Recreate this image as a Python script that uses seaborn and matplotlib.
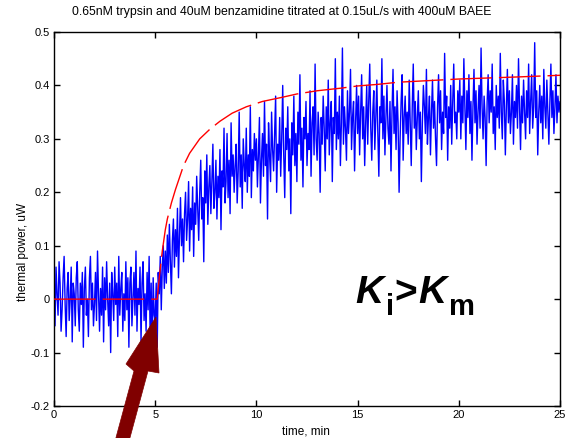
import numpy as np
import pandas as pd
import matplotlib
matplotlib.use("Agg")
import matplotlib.pyplot as plt
from matplotlib.patches import Polygon
import seaborn as sns

# ---------------- data ----------------
title = "0.65nM trypsin and 40uM benzamidine titrated at 0.15uL/s with 400uM BAEE"
xlabel = "time, min"
ylabel = "thermal power, uW"
xticks = [0, 5, 10, 15, 20, 25]
yticks = [-0.2, -0.1, 0, 0.1, 0.2, 0.3, 0.4, 0.5]
ytick_labels = ["-0.2", "-0.1", "0", "0.1", "0.2", "0.3", "0.4", "0.5"]

# measured thermal power (blue), sampled every 3 s from 0 to 25 min
power_0_5 = [
    0.02, -0.05, 0.06, 0.01, -0.03, 0.07, 0.03, -0.06, -0.02, 0.04,
    0.08, -0.01, -0.07, 0.02, 0.05, -0.04, 0.00, 0.06, -0.08, 0.03,
    0.01, -0.05, 0.04, 0.07, -0.02, -0.06, 0.03, -0.01, 0.05, -0.09,
    0.02, 0.06, -0.03, 0.00, -0.07, 0.04, 0.08, -0.02, 0.03, -0.05,
    -0.01, 0.05, -0.04, 0.09, 0.01, -0.06, 0.02, -0.03, 0.06, -0.08,
    0.04, -0.02, 0.07, 0.00, -0.05, 0.03, -0.10, 0.05, 0.01, -0.04,
    0.06, -0.01, 0.03, -0.07, 0.08, -0.03, 0.02, 0.05, -0.06, 0.01,
    -0.04, 0.07, -0.02, 0.04, -0.09, 0.03, 0.06, -0.05, 0.00, 0.05,
    -0.03, 0.09, -0.06, 0.02, -0.01, 0.06, -0.08, 0.03, 0.07, -0.04,
    0.01, -0.06, 0.05, -0.02, 0.08, -0.07, 0.03, -0.10, 0.04, -0.03,
]
power_5_10 = [
    -0.04, 0.03, -0.09, 0.05, 0.01, 0.08, -0.02, 0.06, 0.10, 0.02,
    0.09, 0.03, 0.12, 0.05, 0.14, 0.07, 0.01, 0.11, 0.15, 0.06,
    0.13, 0.08, 0.17, 0.04, 0.12, 0.19, 0.10, 0.15, 0.07, 0.16,
    0.20, 0.11, 0.15, 0.22, 0.09, 0.17, 0.13, 0.21, 0.08, 0.18,
    0.14, 0.23, 0.17, 0.11, 0.20, 0.26, 0.15, 0.19, 0.07, 0.24,
    0.18, 0.27, 0.14, 0.21, 0.25, 0.16, 0.22, 0.29, 0.17, 0.20,
    0.26, 0.15, 0.23, 0.19, 0.28, 0.13, 0.24, 0.21, 0.32, 0.18,
    0.22, 0.31, 0.19, 0.26, 0.16, 0.33, 0.23, 0.27, 0.20, 0.25,
    0.29, 0.18, 0.24, 0.35, 0.21, 0.27, 0.17, 0.30, 0.25, 0.22,
    0.32, 0.20, 0.27, 0.23, 0.36, 0.19, 0.28, 0.24, 0.31, 0.26,
]
power_10_15 = [
    0.30, 0.21, 0.27, 0.34, 0.18, 0.26, 0.31, 0.23, 0.37, 0.25,
    0.29, 0.15, 0.33, 0.27, 0.22, 0.35, 0.28, 0.24, 0.31, 0.38,
    0.20, 0.29, 0.26, 0.34, 0.23, 0.30, 0.40, 0.27, 0.19, 0.32,
    0.28, 0.36, 0.24, 0.30, 0.16, 0.33, 0.27, 0.38, 0.25, 0.31,
    0.22, 0.35, 0.29, 0.42, 0.26, 0.32, 0.21, 0.34, 0.30, 0.37,
    0.25, 0.31, 0.28, 0.39, 0.23, 0.33, 0.36, 0.27, 0.44, 0.30,
    0.26, 0.35, 0.31, 0.20, 0.34, 0.29, 0.38, 0.32, 0.24, 0.36,
    0.30, 0.41, 0.27, 0.33, 0.37, 0.22, 0.34, 0.31, 0.45, 0.28,
    0.35, 0.30, 0.38, 0.25, 0.33, 0.47, 0.29, 0.36, 0.32, 0.26,
    0.39, 0.31, 0.35, 0.43, 0.28, 0.34, 0.37, 0.24, 0.33, 0.40,
]
power_15_20 = [
    0.31, 0.38, 0.27, 0.35, 0.42, 0.30, 0.36, 0.25, 0.33, 0.40,
    0.29, 0.37, 0.44, 0.32, 0.26, 0.35, 0.39, 0.28, 0.34, 0.41,
    0.31, 0.23, 0.36, 0.33, 0.45, 0.30, 0.38, 0.27, 0.34, 0.40,
    0.32, 0.29, 0.37, 0.24, 0.35, 0.43, 0.31, 0.36, 0.28, 0.39,
    0.33, 0.20, 0.30, 0.37, 0.42, 0.26, 0.34, 0.38, 0.31, 0.35,
    0.29, 0.41, 0.33, 0.25, 0.36, 0.44, 0.32, 0.37, 0.28, 0.34,
    0.39, 0.30, 0.35, 0.22, 0.33, 0.40, 0.36, 0.31, 0.43, 0.29,
    0.34, 0.38, 0.27, 0.35, 0.41, 0.32, 0.37, 0.30, 0.25, 0.36,
    0.42, 0.33, 0.39, 0.28, 0.35, 0.31, 0.46, 0.34, 0.38, 0.26,
    0.36, 0.32, 0.40, 0.29, 0.37, 0.44, 0.33, 0.35, 0.30, 0.39,
]
power_20_25 = [
    0.35, 0.41, 0.30, 0.38, 0.33, 0.45, 0.36, 0.28, 0.39, 0.34,
    0.42, 0.31, 0.37, 0.26, 0.36, 0.43, 0.33, 0.39, 0.29, 0.35,
    0.40, 0.32, 0.47, 0.36, 0.30, 0.38, 0.34, 0.25, 0.37, 0.42,
    0.33, 0.39, 0.35, 0.44, 0.31, 0.36, 0.28, 0.40, 0.34, 0.38,
    0.32, 0.46, 0.35, 0.30, 0.41, 0.37, 0.27, 0.36, 0.43, 0.33,
    0.39, 0.31, 0.35, 0.42, 0.29, 0.37, 0.34, 0.40, 0.32, 0.45,
    0.36, 0.28, 0.38, 0.33, 0.41, 0.35, 0.30, 0.39, 0.34, 0.44,
    0.31, 0.37, 0.42, 0.32, 0.36, 0.48, 0.34, 0.39, 0.27, 0.35,
    0.40, 0.33, 0.38, 0.30, 0.43, 0.36, 0.32, 0.41, 0.35, 0.29,
    0.37, 0.44, 0.34, 0.39, 0.31, 0.36, 0.42, 0.33, 0.38, 0.35,
    0.37,
]

# model curve (red dashed)
model_time = [0, 5.1, 5.2, 5.35, 5.5, 5.6, 5.8, 6.0, 6.4, 6.7, 7.2, 7.7, 8.2,
              8.8, 9.5, 10.3, 11.3, 12.0, 13.0, 14.2, 15.0, 16.0, 17.0, 18.5,
              20.0, 21.5, 23.0, 25.0]
model_power = [0, 0, 0.04, 0.09, 0.13, 0.15, 0.18, 0.205, 0.25, 0.273, 0.30,
               0.318, 0.333, 0.348, 0.36, 0.37, 0.378, 0.384, 0.39, 0.395,
               0.399, 0.402, 0.406, 0.409, 0.412, 0.414, 0.416, 0.419]

# ---------------- build tables ----------------
power = power_0_5 + power_5_10 + power_10_15 + power_15_20 + power_20_25
meas = pd.DataFrame({"time": np.linspace(0, 25, len(power)), "power": power})
model = pd.DataFrame({"time": model_time, "power": model_power})

# ---------------- plot ----------------
sns.set_style("ticks")
plt.rcParams["font.family"] = ["Liberation Sans", "DejaVu Sans"]
plt.rcParams["text.color"] = "black"
plt.rcParams["axes.labelcolor"] = "black"

W, H = 572, 438
fig = plt.figure(figsize=(W / 100, H / 100), dpi=100)
ax = fig.add_axes([54 / W, (H - 406) / H, (560 - 54) / W, (406 - 32) / H])

sns.lineplot(data=meas, x="time", y="power", ax=ax, color="#0000ff",
             lw=1.0, estimator=None, sort=False, zorder=2)
sns.lineplot(data=model, x="time", y="power", ax=ax, color="#ff0000",
             lw=1.0, estimator=None, sort=False, zorder=3)
ax.lines[-1].set_dashes([30, 5])

ax.set_xlim(0, 25)
ax.set_ylim(-0.2, 0.5)
ax.set_xticks(xticks)
ax.set_xticklabels([str(v) for v in xticks])
ax.set_yticks(yticks)
ax.set_yticklabels(ytick_labels)
ax.tick_params(direction="in", length=4, width=1, labelsize=8,
               top=True, right=True, colors="black", pad=3)
for s in ax.spines.values():
    s.set_visible(True)
    s.set_linewidth(1.0)
    s.set_color("black")
ax.set_xlabel("")
ax.set_ylabel("")


def px(x, y):
    return (x / W, 1 - y / H)


fig.text(*px(281.5, 12), title, ha="center", va="center", fontsize=8.8,
         color="black")
fig.text(*px(306, 431), xlabel, ha="center", va="center", fontsize=8.5,
         color="black")
fig.text(*px(23, 252), ylabel, ha="center", va="center",
         rotation=90, fontsize=8.5, color="black")

# K_i > K_m annotation
big, small = 28, 21
fig.text(*px(355, 303), "K", fontsize=big, fontweight="bold", style="italic",
         ha="left", va="baseline", color="black")
fig.text(*px(386, 315), "i", fontsize=small, fontweight="bold",
         ha="left", va="baseline", color="black")
fig.text(*px(394, 303), ">", fontsize=big, fontweight="bold",
         ha="left", va="baseline", color="black")
fig.text(*px(418, 303), "K", fontsize=big, fontweight="bold", style="italic",
         ha="left", va="baseline", color="black")
fig.text(*px(449, 315), "m", fontsize=small, fontweight="bold",
         ha="left", va="baseline", color="black")

# dark red arrow pointing at the injection start
arrow_px = [(156, 317), (159, 373), (148, 371), (128, 445), (114, 445),
            (134, 371), (126, 364)]
fig.add_artist(Polygon([px(x, y) for x, y in arrow_px], closed=True,
                       transform=fig.transFigure, fc="#800000", ec="#800000",
                       lw=0.5, zorder=10))

fig.savefig("out.png", dpi=100)
